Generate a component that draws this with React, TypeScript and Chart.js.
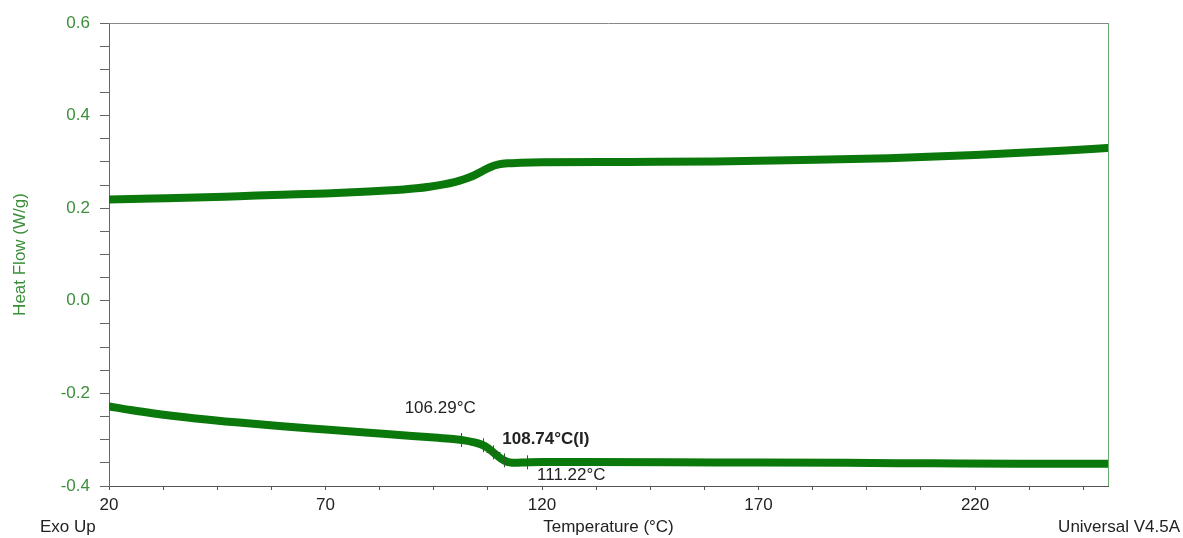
import React, { useEffect, useRef } from "react";
import { Chart, registerables } from "chart.js";

Chart.register(...registerables);

// ---- data ----
const upperTemps = [20, 30, 40, 50, 60, 70, 80, 84, 88, 91, 94, 97, 100, 102, 104, 106, 108, 110, 112, 115, 120, 140, 160, 180, 200, 220, 240, 250.5];
const upperFlow = [0.219, 0.221, 0.223, 0.226, 0.229, 0.232, 0.236, 0.238, 0.2405, 0.243, 0.2465, 0.251, 0.257, 0.2625, 0.2695, 0.279, 0.2885, 0.2945, 0.297, 0.298, 0.299, 0.300, 0.301, 0.304, 0.308, 0.315, 0.324, 0.330];

const lowerTemps = [20, 25, 30, 40, 50, 60, 70, 80, 90, 96, 100, 102, 104, 106, 107.5, 109, 110.5, 111.5, 112.5, 114, 116, 120, 130, 160, 190, 210, 230, 250.5];
const lowerFlow = [-0.228, -0.236, -0.243, -0.254, -0.263, -0.271, -0.278, -0.285, -0.292, -0.296, -0.299, -0.3015, -0.305, -0.3105, -0.318, -0.3295, -0.3405, -0.346, -0.349, -0.350, -0.349, -0.348, -0.348, -0.349, -0.350, -0.351, -0.352, -0.352];

const xMajorTicks = [20, 70, 120, 170, 220];
const xMinorStep = 12.5;
const yMajorTicks = [-0.4, -0.2, 0.0, 0.2, 0.4, 0.6];
const yMinorStep = 0.05;

const markerTemps = [101.3, 106.29, 108.74, 111.22, 116.5];
const annotations = [
  { text: "106.29°C", temp: 106.29, bold: false },
  { text: "108.74°C(I)", temp: 108.74, bold: true },
  { text: "111.22°C", temp: 111.22, bold: false },
];
const annotOffsets = [
  { dx: -78, dy: -37 },
  { dx: 9, dy: -13 },
  { dx: 33, dy: 15 },
];

const FONT = "'Liberation Sans', Arial, sans-serif";
const LINE_COLOR = "#0a780a";
const GREEN_TEXT = "#3b8f3b";

function interp(xs: number[], ys: number[], x: number) {
  for (let i = 0; i < xs.length - 1; i++) {
    if (x >= xs[i] && x <= xs[i + 1]) {
      const t = (x - xs[i]) / (xs[i + 1] - xs[i]);
      return ys[i] + t * (ys[i + 1] - ys[i]);
    }
  }
  return ys[ys.length - 1];
}

const framePlugin = {
  id: "frameAndAnnot",
  afterDatasetsDraw(chart: any) {
    const { ctx, chartArea, scales } = chart;
    const xs = scales.x;
    const ys = scales.y;
    ctx.save();
    ctx.strokeStyle = "#888888";
    ctx.lineWidth = 1;
    ctx.beginPath();
    ctx.moveTo(chartArea.left, chartArea.top + 0.5);
    ctx.lineTo(chartArea.right, chartArea.top + 0.5);
    ctx.stroke();
    ctx.strokeStyle = "#6aaa6a";
    ctx.beginPath();
    ctx.moveTo(chartArea.right + 0.5, chartArea.top);
    ctx.lineTo(chartArea.right + 0.5, chartArea.bottom);
    ctx.stroke();

    ctx.strokeStyle = "#2f5a2f";
    ctx.lineWidth = 1;
    markerTemps.forEach((t, i) => {
      const px = Math.round(xs.getPixelForValue(t)) + 0.5;
      const py = ys.getPixelForValue(interp(lowerTemps, lowerFlow, t));
      ctx.beginPath();
      ctx.moveTo(px, py - 7);
      ctx.lineTo(px, py + 7);
      ctx.stroke();
      if (i === 2) {
        ctx.beginPath();
        ctx.moveTo(px - 7, py);
        ctx.lineTo(px + 7, py);
        ctx.stroke();
      }
    });

    ctx.fillStyle = "#222222";
    ctx.textBaseline = "middle";
    ctx.textAlign = "left";
    annotations.forEach((a, i) => {
      const px = xs.getPixelForValue(a.temp);
      const py = ys.getPixelForValue(interp(lowerTemps, lowerFlow, a.temp));
      ctx.font = (a.bold ? "bold " : "") + "17px " + FONT;
      ctx.fillText(a.text, px + annotOffsets[i].dx, py + annotOffsets[i].dy);
    });

    ctx.font = "17px " + FONT;
    ctx.fillStyle = "#222222";
    ctx.textAlign = "left";
    ctx.fillText("Exo Up", 40, 527);
    ctx.textAlign = "right";
    ctx.fillText("Universal V4.5A", 1180, 527);
    ctx.restore();
  },
};

export default function App() {
  const canvasRef = useRef<HTMLCanvasElement | null>(null);

  useEffect(() => {
    if (!canvasRef.current) return;
    const chart = new Chart(canvasRef.current, {
      type: "line",
      data: {
        datasets: [
          {
            label: "Heating",
            data: upperTemps.map((t, i) => ({ x: t, y: upperFlow[i] })),
            borderColor: LINE_COLOR,
            borderWidth: 8,
            borderCapStyle: "round",
            borderJoinStyle: "round",
            pointRadius: 0,
            cubicInterpolationMode: "monotone",
            fill: false,
          },
          {
            label: "Cooling",
            data: lowerTemps.map((t, i) => ({ x: t, y: lowerFlow[i] })),
            borderColor: LINE_COLOR,
            borderWidth: 8,
            borderCapStyle: "round",
            borderJoinStyle: "round",
            pointRadius: 0,
            cubicInterpolationMode: "monotone",
            fill: false,
          },
        ],
      },
      options: {
        animation: false,
        responsive: false,
        maintainAspectRatio: false,
        layout: { padding: { top: 23, right: 75, bottom: 0, left: 0 } },
        plugins: {
          legend: { display: false },
          tooltip: { enabled: false },
        },
        scales: {
          x: {
            type: "linear",
            min: 20,
            max: 250.7,
            afterBuildTicks: (scale: any) => {
              const ticks: any[] = [];
              const first = xMajorTicks[0];
              for (let v = first; v <= scale.max + 1e-9; v += xMinorStep) {
                ticks.push({ value: v });
              }
              scale.ticks = ticks;
            },
            afterFit: (scale: any) => {
              scale.height = 52;
            },
            ticks: {
              autoSkip: false,
              maxRotation: 0,
              padding: 5,
              color: "#222222",
              font: { family: FONT, size: 17 },
              callback: (v: any) => (xMajorTicks.some((m) => Math.abs(m - v) < 1e-6) ? String(v) : ""),
            },
            grid: {
              display: true,
              drawOnChartArea: false,
              drawTicks: true,
              tickLength: 4,
              color: "#555555",
            },
            border: { display: true, color: "#555555", width: 1 },
            title: {
              display: true,
              text: "Temperature (°C)",
              color: "#222222",
              font: { family: FONT, size: 17 },
              padding: { top: 0, bottom: 0 },
            },
          },
          y: {
            type: "linear",
            min: -0.4,
            max: 0.6,
            afterBuildTicks: (scale: any) => {
              const ticks: any[] = [];
              for (let k = 0; k <= 20; k++) {
                ticks.push({ value: Math.round((yMajorTicks[0] + k * yMinorStep) * 100) / 100 });
              }
              scale.ticks = ticks;
            },
            afterFit: (scale: any) => {
              scale.width = 109;
            },
            ticks: {
              autoSkip: false,
              padding: 10,
              color: GREEN_TEXT,
              font: { family: FONT, size: 17 },
              callback: (v: any) => {
                const isMajor = yMajorTicks.some((m) => Math.abs(m - v) < 1e-6);
                if (!isMajor) return "";
                const n = Math.abs(v) < 1e-9 ? 0 : v;
                return n.toFixed(1);
              },
            },
            grid: {
              display: true,
              drawOnChartArea: false,
              drawTicks: true,
              tickLength: 9,
              color: "#666666",
            },
            border: { display: true, color: "#666666", width: 1 },
            title: {
              display: true,
              text: "Heat Flow (W/g)",
              color: GREEN_TEXT,
              font: { family: FONT, size: 17 },
              padding: { top: 10, bottom: 0 },
            },
          },
        },
      },
      plugins: [framePlugin],
    } as any);
    return () => chart.destroy();
  }, []);

  return (
    <div style={{ position: "fixed", left: 0, top: 0, width: 1183, height: 538, background: "#ffffff" }}>
      <canvas ref={canvasRef} width={1183} height={538} style={{ display: "block", width: 1183, height: 538 }} />
    </div>
  );
}
